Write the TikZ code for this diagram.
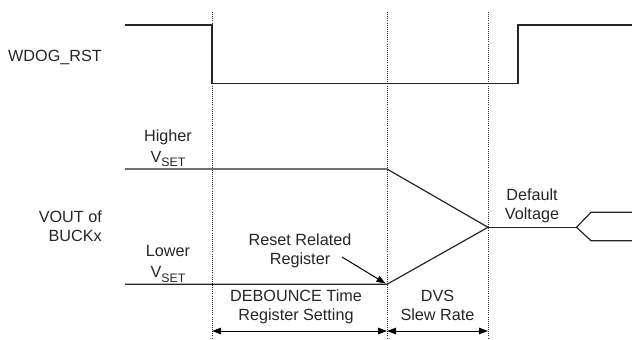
\documentclass[tikz,border=0pt]{standalone}
\usepackage{fontspec}
\setmainfont{Liberation Sans}
\usetikzlibrary{arrows.meta}
\newcommand{\vset}{V\raisebox{-4.4pt}{\fontsize{12.3}{12.3}\selectfont SET}}
\begin{document}
\begin{tikzpicture}[x=1pt,y=-1pt,
  sig/.style={line width=1.2pt, line join=miter, color=black!85},
  guide/.style={line width=0.9pt, dash pattern=on 1pt off 1.1pt, color=black!80},
  lbl/.style={font=\fontsize{16.2}{19}\selectfont, inner sep=0pt, align=center, anchor=base, text=black!85},
  dim/.style={line width=1pt, {Triangle[length=9pt,width=6.5pt]}-{Triangle[length=9pt,width=6.5pt]}},
]
\useasboundingbox (0,0) rectangle (632,340);

% guides
\coordinate (g1t) at (212,12); \coordinate (g1b) at (212,340);
\coordinate (g2t) at (387,12); \coordinate (g2b) at (387,340);
\coordinate (g3t) at (488,12); \coordinate (g3b) at (488,340);
\draw[guide] (g1t) -- (g1b);
\draw[guide] (g2t) -- (g2b);
\draw[guide] (g3t) -- (g3b);

% WDOG_RST waveform
\coordinate (w0) at (125,25);
\coordinate (w1) at (212,25);
\coordinate (w2) at (212,83.3);
\coordinate (w3) at (518,83.3);
\coordinate (w4) at (518,25);
\coordinate (w5) at (632,25);
\draw[sig] (w0) -- (w1) -- (w2) -- (w3) -- (w4) -- (w5);

% VOUT waveforms
\coordinate (h0) at (125,169);
\coordinate (h1) at (387,169);
\coordinate (l0) at (125,284.3);
\coordinate (l1) at (387,284.3);
\coordinate (dv) at (488,227.3);
\coordinate (fk) at (576.5,227.3);
\coordinate (fu) at (591,212.3);
\coordinate (fu2) at (632,212.3);
\coordinate (fd) at (591,240.7);
\coordinate (fd2) at (632,240.7);
\draw[sig] (h0) -- (h1) -- (dv);
\draw[sig] (l0) -- (l1) -- (dv);
\draw[sig] (dv) -- (fk);
\draw[sig] (fk) -- (fu) -- (fu2);
\draw[sig] (fk) -- (fd) -- (fd2);

% labels (base = baseline of the last line)
\node[lbl] (wdog) at (55,61) {WDOG\_RST};
\node[lbl, align=right, anchor=base east] (vout) at (102,241.7) {VOUT of\\BUCKx};
\node[lbl] (hi) at (168,162.3) {Higher\\[2pt]\vset};
\node[lbl] (lo) at (168,277.7) {Lower\\[2pt]\vset};
\node[lbl] (rr) at (300,264) {Reset Related\\Register};
\node[lbl] (deb) at (296,320.7) {DEBOUNCE Time\\Register Setting};
\node[lbl] (dvs) at (437.5,320.7) {DVS\\Slew Rate};
\node[lbl] (dflt) at (532,219) {Default\\Voltage};

% reset arrow
\coordinate (rs) at (342,257);
\coordinate (re) at (385.5,283.5);
\draw[line width=1pt, -{Triangle[length=9pt,width=6.5pt]}] (rs) -- (re);

% dimension arrows
\coordinate (a1) at (212,331);
\coordinate (a2) at (387,331);
\coordinate (a3) at (488,331);
\draw[dim] (a1) -- (a2);
\draw[dim] (a2) -- (a3);
\end{tikzpicture}
\end{document}
